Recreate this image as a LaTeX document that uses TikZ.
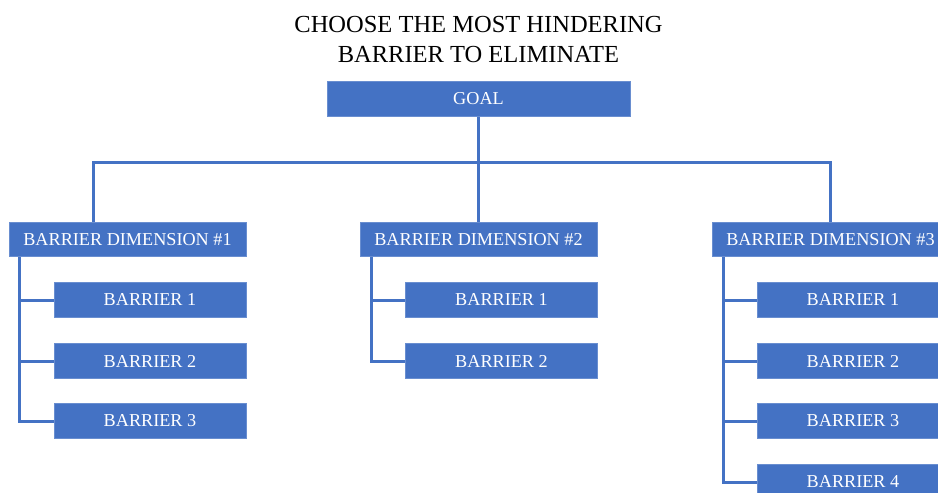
\documentclass[tikz,border=0pt]{standalone}
\usepackage{fontspec}
\setmainfont{Liberation Serif}
\usetikzlibrary{backgrounds}
\definecolor{boxblue}{HTML}{4472C4}
\tikzset{
  box/.style={fill=boxblue, draw=boxblue!80!white, line width=0.8pt, text=white, inner sep=0pt,
    minimum height=34.5pt, font=\fontsize{18.2}{20}\selectfont},
  goalbox/.style={box, minimum width=303pt},
  dimbox/.style={box, minimum width=237pt},
  barbox/.style={box, minimum width=192pt},
  link/.style={draw=boxblue, line width=3pt},
  titletext/.style={font=\fontsize{24.5}{30}\selectfont, text=black, inner sep=0pt, anchor=base}
}
\begin{document}
\begin{tikzpicture}[x=1pt, y=-1pt]
\clip (0,0) rectangle (938,493);
\useasboundingbox (0,0) rectangle (938,493);

\node[titletext] (t1) at (478.5,32) {CHOOSE THE MOST HINDERING};
\node[titletext] (t2) at (478.5,62) {BARRIER TO ELIMINATE};

\node[goalbox] (goal) at (478.5,99) {GOAL};
\node[dimbox] (d1) at (127.5,239.5) {BARRIER DIMENSION \#1};
\node[dimbox] (d2) at (478.5,239.5) {BARRIER DIMENSION \#2};
\node[dimbox] (d3) at (830.5,239.5) {BARRIER DIMENSION \#3};

\node[barbox] (b11) at (150,300) {BARRIER 1};
\node[barbox] (b12) at (150,361) {BARRIER 2};
\node[barbox] (b13) at (150,421) {BARRIER 3};

\node[barbox] (b21) at (501.5,300) {BARRIER 1};
\node[barbox] (b22) at (501.5,361) {BARRIER 2};

\node[barbox] (b31) at (853,300) {BARRIER 1};
\node[barbox] (b32) at (853,361) {BARRIER 2};
\node[barbox] (b33) at (853,421) {BARRIER 3};
\node[barbox] (b34) at (853,482) {BARRIER 4};

\coordinate (j1) at (93,162);
\coordinate (j3) at (830.5,162);
\coordinate (v1) at (19,0);
\coordinate (v2) at (371,0);
\coordinate (v3) at (723,0);

\begin{scope}[on background layer]
\fill[white] (0,0) rectangle (938,493);
\begin{scope}[link]
\draw (goal.south) -- (goal.south |- j1);
\draw (d1.north -| j1) -- (j1) -- (j3) -- (d3.north);
\draw (d2.north) -- (d2.north |- j1);

\draw (v1 |- d1.south) -- (v1 |- b13.west) -- (b13.west);
\draw (v1 |- b11.west) -- (b11.west);
\draw (v1 |- b12.west) -- (b12.west);

\draw (v2 |- d2.south) -- (v2 |- b22.west) -- (b22.west);
\draw (v2 |- b21.west) -- (b21.west);

\draw (v3 |- d3.south) -- (v3 |- b34.west) -- (b34.west);
\draw (v3 |- b31.west) -- (b31.west);
\draw (v3 |- b32.west) -- (b32.west);
\draw (v3 |- b33.west) -- (b33.west);
\end{scope}
\end{scope}
\end{tikzpicture}
\end{document}
